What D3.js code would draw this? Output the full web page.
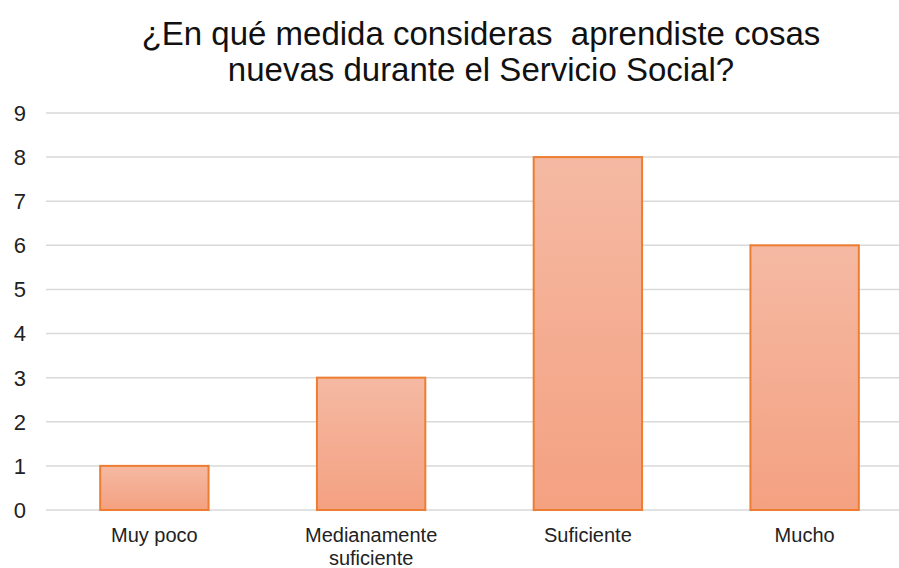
<!DOCTYPE html>
<html><head><meta charset="utf-8">
<script src="https://cdn.jsdelivr.net/npm/d3@7"></script>
<style>body{margin:0;background:#fff}svg{display:block}</style>
</head><body>
<script>
const titleLines = ["¿En qué medida consideras  aprendiste cosas", "nuevas durante el Servicio Social?"];
const categories = ["Muy poco", "Medianamente suficiente", "Suficiente", "Mucho"];
const categoryLines = [["Muy poco"], ["Medianamente", "suficiente"], ["Suficiente"], ["Mucho"]];
const values = [1, 3, 8, 6];
const yTicks = [0,1,2,3,4,5,6,7,8,9];

const W = 899, H = 568;
const svg = d3.select("body").append("svg").attr("width", W).attr("height", H);
const font = "'Liberation Sans', Arial, sans-serif";

const defs = svg.append("defs");
const grad = defs.append("linearGradient").attr("id","g").attr("x1",0).attr("y1",0).attr("x2",0).attr("y2",1);
grad.append("stop").attr("offset","0%").attr("stop-color","#F5B9A3");
grad.append("stop").attr("offset","100%").attr("stop-color","#F4A181");

const x = d3.scaleBand().domain(categories).range([46, 913]).paddingInner(0.5).paddingOuter(0.25);
const y = d3.scaleLinear().domain([0, 9]).range([510, 113]);

// gridlines
svg.append("g").selectAll("line").data(yTicks).join("line")
  .attr("x1", 46).attr("x2", W).attr("y1", d => y(d)).attr("y2", d => y(d))
  .attr("stroke", "#d9d9d9").attr("stroke-width", 1.5);

// y labels
svg.append("g").selectAll("text").data(yTicks).join("text")
  .attr("x", 26).attr("y", d => y(d)).attr("dy", "0.36em")
  .attr("text-anchor", "end").attr("font-family", font).attr("font-size", 22).attr("fill", "#222")
  .text(d => d);

// bars
svg.append("g").selectAll("rect").data(values).join("rect")
  .attr("x", (d,i) => x(categories[i])).attr("width", x.bandwidth())
  .attr("y", d => y(d)).attr("height", d => y(0) - y(d))
  .attr("fill", "url(#g)").attr("stroke", "#ED7D31").attr("stroke-width", 2);

// x labels
const xl = svg.append("g").selectAll("text").data(categoryLines).join("text")
  .attr("x", (d,i) => x(categories[i]) + x.bandwidth()/2).attr("y", 542)
  .attr("text-anchor", "middle").attr("font-family", font).attr("font-size", 20).attr("fill", "#222");
xl.selectAll("tspan").data(d => d).join("tspan")
  .attr("x", function(){ return this.parentNode.getAttribute("x"); })
  .attr("dy", (d,i) => i === 0 ? 0 : 23).text(d => d);

// title
svg.append("g").selectAll("text").data(titleLines).join("text")
  .attr("x", 481).attr("y", (d,i) => 45 + i*36)
  .attr("text-anchor", "middle").attr("font-family", font).attr("font-size", 33).attr("fill", "#111")
  .style("white-space", "pre").attr("xml:space", "preserve")
  .text(d => d);
</script>
</body></html>
